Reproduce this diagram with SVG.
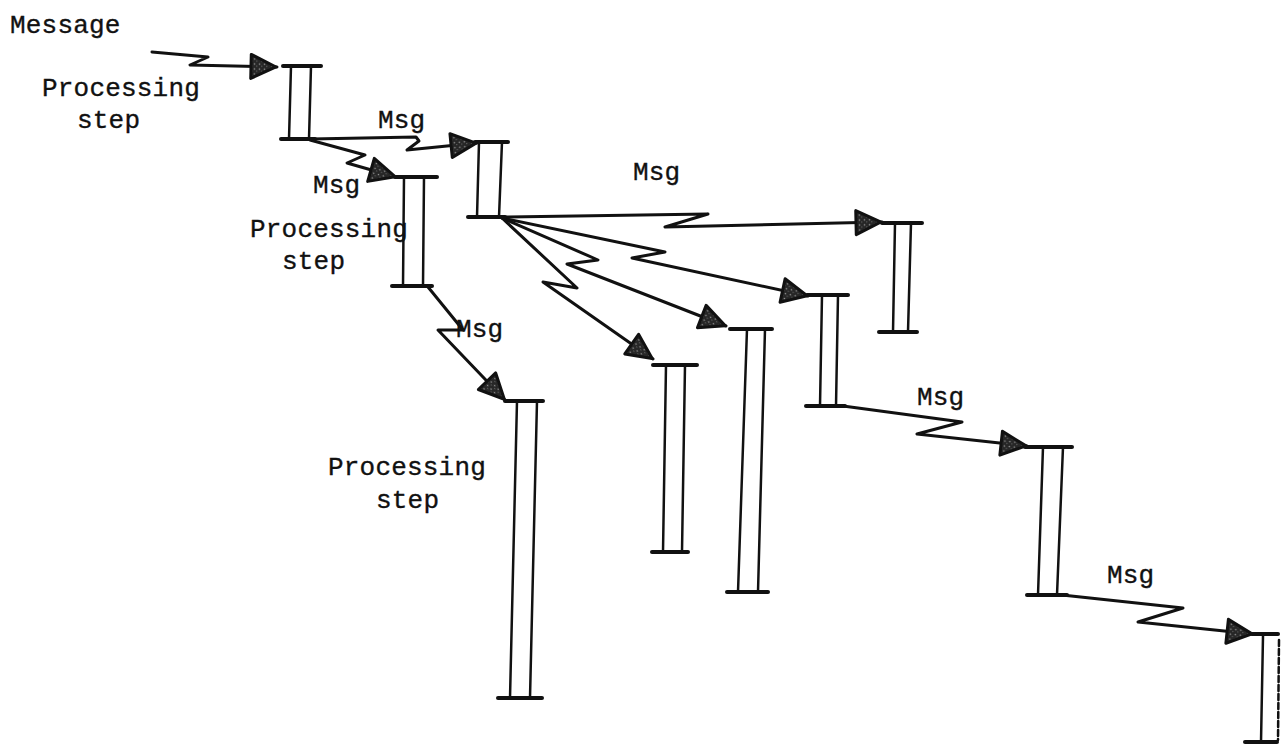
<svg xmlns="http://www.w3.org/2000/svg" width="1288" height="744" viewBox="0 0 1288 744">
<style>
.bg{fill:#fff}
.bar{stroke:#111;stroke-width:4;stroke-linecap:round;fill:none}
.post{stroke:#111;stroke-width:2.5;stroke-linecap:round;fill:none}
.conn{stroke:#111;stroke-width:3;fill:none;stroke-linejoin:round;stroke-linecap:round;marker-end:url(#ah)}
.t{font-family:"Liberation Mono","DejaVu Sans Mono",monospace;font-size:26px;letter-spacing:0.2px;fill:#111;stroke:#111;stroke-width:0.35px}
</style>
<defs>
<pattern id="stip" width="5" height="5" patternUnits="userSpaceOnUse">
<rect width="5" height="5" fill="#262626"/>
<circle cx="1.5" cy="1.5" r="0.8" fill="#9a9a9a"/>
<circle cx="3.8" cy="3.6" r="0.6" fill="#777"/>
</pattern>
<marker id="ah" markerUnits="userSpaceOnUse" viewBox="0 0 30 28" refX="29" refY="14" markerWidth="30" markerHeight="28" orient="auto">
<path d="M3,2 L28,14 L3,26 Z" fill="url(#stip)" stroke="#111" stroke-width="3" stroke-linejoin="round"/>
</marker>
</defs>
<rect class="bg" width="1288" height="744"/>

<g id="connectors">
<path class="conn" d="M152,52 L208,57 L190,65 L277,67"/>
<path class="conn" d="M311,139 L416,137 L419,141 L407,150 L477,143"/>
<path class="conn" d="M310,140 L365,155 L347,163 L396,177"/>
<path class="conn" d="M428,287 L463,330 L438,330 L505,400"/>
<path class="conn" d="M502,217 L708,214 L665,227 L882,222"/>
<path class="conn" d="M502,218 L665,252 L632,258 L808,296"/>
<path class="conn" d="M502,218 L598,260 L567,264 L726,326"/>
<path class="conn" d="M502,218 L577,288 L543,282 L653,359"/>
<path class="conn" d="M843,406 L962,422 L917,434 L1027,446"/>
<path class="conn" d="M1062,595 L1183,608 L1138,622 L1253,634"/>
<text class="t" x="10" y="33">Message</text>
<text class="t" x="378" y="128">Msg</text>
<text class="t" x="313" y="193">Msg</text>
<text class="t" x="633" y="180">Msg</text>
<text class="t" x="456" y="337">Msg</text>
<text class="t" x="917" y="405">Msg</text>
<text class="t" x="1107" y="583">Msg</text>
</g>

<g id="step1">
<line class="bar" x1="283" y1="66" x2="321" y2="66"/>
<line class="post" x1="291" y1="66" x2="289" y2="139"/>
<line class="post" x1="311" y1="66" x2="309" y2="139"/>
<line class="bar" x1="281" y1="139" x2="315" y2="139"/>
<text class="t" x="42" y="96">Processing</text>
<text class="t" x="77" y="128">step</text>
</g>

<g id="step2">
<line class="bar" x1="475" y1="142" x2="508" y2="142"/>
<line class="post" x1="479" y1="142" x2="477" y2="217"/>
<line class="post" x1="502" y1="142" x2="499" y2="217"/>
<line class="bar" x1="468" y1="217" x2="505" y2="217"/>
</g>

<g id="step3">
<line class="bar" x1="395" y1="177" x2="437" y2="177"/>
<line class="post" x1="404" y1="177" x2="403" y2="286"/>
<line class="post" x1="424" y1="177" x2="423" y2="286"/>
<line class="bar" x1="392" y1="286" x2="432" y2="286"/>
<text class="t" x="250" y="237">Processing</text>
<text class="t" x="282" y="269">step</text>
</g>

<g id="step4">
<line class="bar" x1="505" y1="401" x2="543" y2="401"/>
<line class="post" x1="517" y1="401" x2="510" y2="698"/>
<line class="post" x1="537" y1="401" x2="530" y2="698"/>
<line class="bar" x1="498" y1="698" x2="542" y2="698"/>
<text class="t" x="328" y="475">Processing</text>
<text class="t" x="376" y="508">step</text>
</g>

<g id="step5">
<line class="bar" x1="882" y1="223" x2="922" y2="223"/>
<line class="post" x1="895" y1="223" x2="893" y2="332"/>
<line class="post" x1="911" y1="223" x2="908" y2="332"/>
<line class="bar" x1="879" y1="332" x2="917" y2="332"/>
</g>

<g id="step6">
<line class="bar" x1="807" y1="295" x2="848" y2="295"/>
<line class="post" x1="822" y1="295" x2="820" y2="406"/>
<line class="post" x1="838" y1="295" x2="836" y2="406"/>
<line class="bar" x1="806" y1="406" x2="845" y2="406"/>
</g>

<g id="step7">
<line class="bar" x1="1025" y1="447" x2="1072" y2="447"/>
<line class="post" x1="1043" y1="447" x2="1038" y2="595"/>
<line class="post" x1="1063" y1="447" x2="1057" y2="595"/>
<line class="bar" x1="1027" y1="595" x2="1067" y2="595"/>
</g>

<g id="step8">
<line class="bar" x1="1252" y1="634" x2="1278" y2="634"/>
<line class="post" x1="1263" y1="636" x2="1261" y2="742"/>
<line class="post" x1="1279" y1="640" x2="1278" y2="740" stroke-dasharray="6 3" stroke-width="1.5"/>
<line class="bar" x1="1245" y1="742" x2="1277" y2="742"/>
</g>

<g id="step9">
<line class="bar" x1="730" y1="329" x2="772" y2="329"/>
<line class="post" x1="747" y1="329" x2="738" y2="592"/>
<line class="post" x1="765" y1="329" x2="758" y2="592"/>
<line class="bar" x1="727" y1="592" x2="768" y2="592"/>
</g>

<g id="step10">
<line class="bar" x1="653" y1="365" x2="697" y2="365"/>
<line class="post" x1="666" y1="365" x2="663" y2="552"/>
<line class="post" x1="685" y1="365" x2="682" y2="552"/>
<line class="bar" x1="652" y1="552" x2="688" y2="552"/>
</g>
</svg>
